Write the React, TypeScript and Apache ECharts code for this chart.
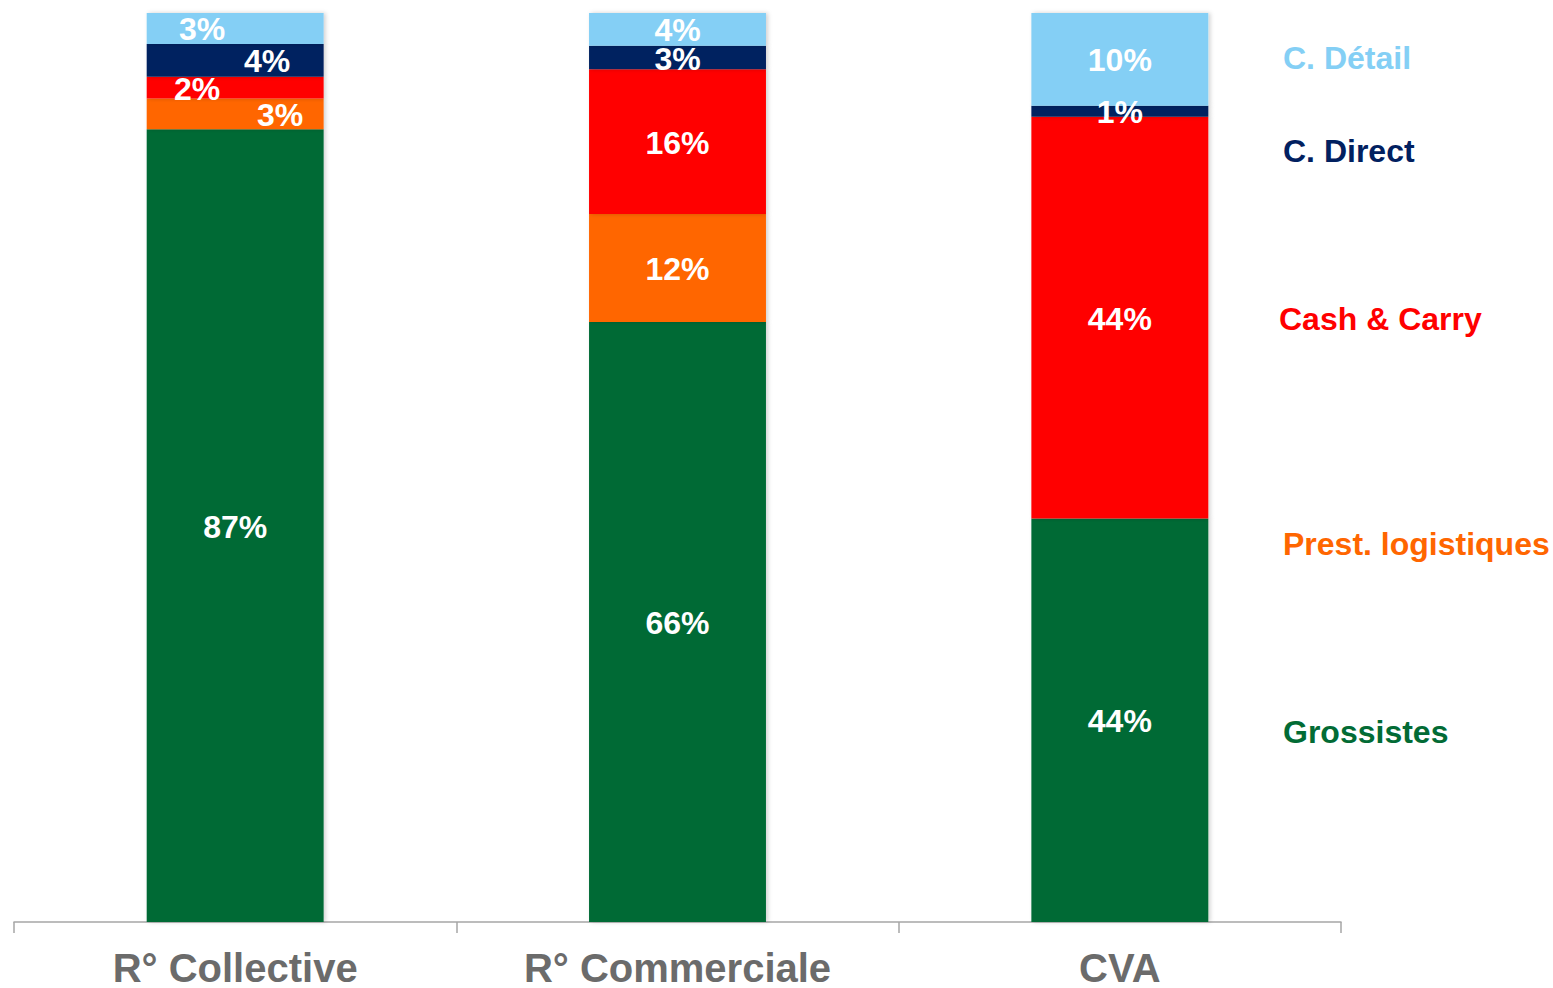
import React, { useEffect, useRef } from "react";
import * as echarts from "echarts";

const categories = ["R° Collective", "R° Commerciale", "CVA"];
const seriesNames = ["Grossistes", "Prest. logistiques", "Cash & Carry", "C. Direct", "C. Détail"];
const grossistes = [87.2, 66.0, 44.4];
const prestLogistiques = [3.4, 11.9, 0];
const cashCarry = [2.4, 15.9, 44.2];
const cDirect = [3.6, 2.6, 1.2];
const cDetail = [3.4, 3.6, 10.2];
const colors = ["#026B35", "#FF6600", "#FF0000", "#012060", "#84CFF5"];
// horizontal label offsets per series / category
const labelOffsetX = [
  [0, 0, 0],
  [45, 0, 0],
  [-38, 0, 0],
  [32, 0, 0],
  [-33, 0, 0],
];
const legendY = [733, 545, 320, 152, 59];
const legendX = [1283, 1283, 1279, 1283, 1283];

export default function App() {
  const ref = useRef<HTMLDivElement>(null);
  useEffect(() => {
    if (!ref.current) return;
    const chart = echarts.init(ref.current, undefined, { renderer: "svg" });
    const values = [grossistes, prestLogistiques, cashCarry, cDirect, cDetail];
    const font = "'Liberation Sans', Arial, sans-serif";
    chart.setOption({
      animation: false,
      grid: { left: 14, right: 212, top: 13, bottom: 63, containLabel: false },
      xAxis: {
        type: "category",
        data: categories,
        boundaryGap: true,
        axisLine: { lineStyle: { color: "#A6A6A6", width: 1.5 } },
        axisTick: { show: true, length: 11, alignWithLabel: false, lineStyle: { color: "#A6A6A6", width: 1.5 } },
        axisLabel: {
          color: "#6B6B6B",
          fontSize: 40,
          fontWeight: "bold",
          fontFamily: font,
          margin: 26,
          interval: 0,
        },
      },
      yAxis: { type: "value", min: 0, max: 100, show: false, splitLine: { show: false } },
      series: values.map((vals, si) => ({
        name: seriesNames[si],
        type: "bar",
        stack: "total",
        barWidth: "40%",
        itemStyle: {
          color: colors[si],
          shadowBlur: 4,
          shadowColor: "rgba(0,0,0,0.18)",
          shadowOffsetX: 2,
        },
        data: vals.map((v, ci) => ({
          value: v,
          label: { offset: [labelOffsetX[si][ci], 1] },
        })),
        label: {
          show: true,
          position: "inside",
          color: "#FFFFFF",
          fontSize: 32,
          fontWeight: "bold",
          fontFamily: font,
          formatter: (p: any) => (p.value > 0 ? Math.round(p.value) + "%" : ""),
        },
      })),
      graphic: seriesNames.map((n, i) => ({
        type: "text",
        left: legendX[i],
        top: legendY[i] - 17,
        style: {
          text: n,
          fill: colors[i],
          font: `bold 32px ${font}`,
        },
      })),
    });
    return () => chart.dispose();
  }, []);
  return (
    <div
      ref={ref}
      style={{ position: "fixed", left: 0, top: 0, width: 1553, height: 988, background: "#fff" }}
    />
  );
}
